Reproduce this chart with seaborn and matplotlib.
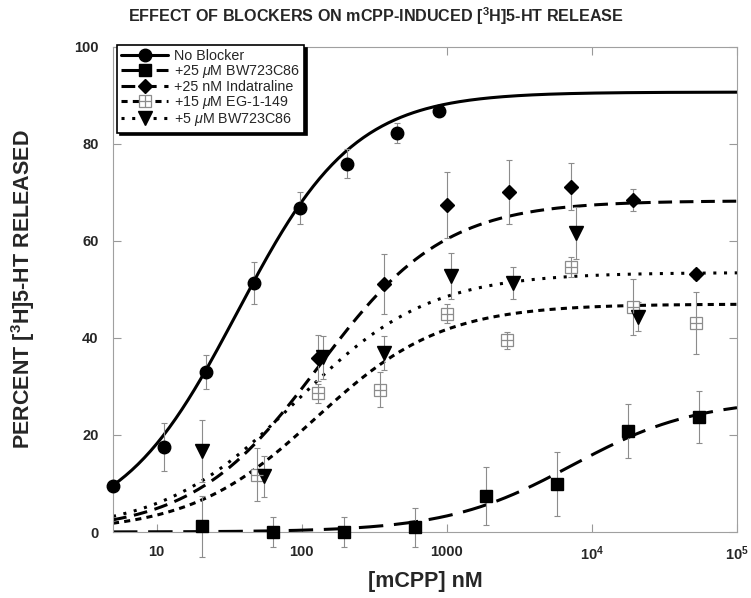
import numpy as np
import pandas as pd
import matplotlib
matplotlib.use('Agg')
import matplotlib.pyplot as plt
import seaborn as sns
from matplotlib.lines import Line2D
from matplotlib.legend_handler import HandlerTuple
from matplotlib.ticker import FixedLocator, FixedFormatter, NullLocator

# Datos: [mCPP] (nM), % liberado, error
nb_x = [5, 11.2, 22, 47, 98, 204, 452, 890]
nb_y = [9.5, 17.5, 33, 51.3, 66.8, 75.9, 82.3, 86.8]
nb_err = [0, 5, 3.5, 4.3, 3.3, 3, 2, 1]

bw25_x = [20.4, 63, 195, 600, 1860, 5700, 17800, 55000]
bw25_y = [1.2, 0, 0, 1, 7.4, 9.9, 20.8, 23.7]
bw25_err = [6.3, 3, 3, 4, 6, 6.5, 5.5, 5.4]

ind_x = [130, 368, 1000, 2700, 7160, 19200, 52000]
ind_y = [35.9, 51.1, 67.4, 70.1, 71.2, 68.5, 53.2]
ind_err = [4.7, 6.2, 6.8, 6.5, 4.8, 2.3, 1]

eg_x = [49, 129, 345, 1000, 2600, 7160, 19200, 52000]
eg_y = [11.8, 28.6, 29.3, 45, 39.5, 54.6, 46.4, 43.1]
eg_err = [5.5, 2, 3.6, 2, 1.7, 2, 5.8, 6.3]

bw5_x = [20.4, 55, 141, 371, 1060, 2850, 7800, 20700]
bw5_y = [16.7, 11.5, 36, 37, 52.8, 51.3, 61.6, 44.4]
bw5_err = [6.4, 4.2, 4.5, 3.5, 4.8, 3.3, 5.4, 3]

# Parametros del ajuste sigmoide: maximo, EC50 (nM), pendiente de Hill
series = ['No Blocker', '+25 $\\mu$M BW723C86', '+25 nM Indatraline',
          '+15 $\\mu$M EG-1-149', '+5 $\\mu$M BW723C86']
fit_top = [90.7, 27.5, 68.3, 47.0, 53.5]
fit_ec50 = [36, 7300, 131, 125, 90]
fit_hill = [1.08, 1.0, 1.0, 1.0, 0.95]

puntos = [(nb_x, nb_y, nb_err), (bw25_x, bw25_y, bw25_err), (ind_x, ind_y, ind_err),
          (eg_x, eg_y, eg_err), (bw5_x, bw5_y, bw5_err)]

dashes = {series[0]: '', series[1]: (8, 3.5), series[2]: (4.5, 2.5),
          series[3]: (2, 1.7), series[4]: (1, 2.5)}
markers = ['o', 's', 'D', 's', 'v']
msizes = [9, 8.5, 7, 8.5, 10]

sns.set_style('ticks')
plt.rcParams['font.family'] = ['Liberation Sans', 'DejaVu Sans']
plt.rcParams['mathtext.fontset'] = 'custom'
plt.rcParams['mathtext.rm'] = 'Liberation Sans'
plt.rcParams['mathtext.it'] = 'Liberation Sans:italic'
plt.rcParams['mathtext.bf'] = 'Liberation Sans:bold'

fig = plt.figure(figsize=(7.51, 5.98), dpi=100)
ax = fig.add_axes([113 / 751, 1 - 532 / 598, 624 / 751, 485 / 598])
ax.set_xscale('log')

# Curvas ajustadas
xs = np.logspace(np.log10(5), 5, 300)
filas = []
for s, t, e, n in zip(series, fit_top, fit_ec50, fit_hill):
    for xv in xs:
        filas.append({'mcpp': xv, 'pct': t / (1 + (e / xv) ** n), 'serie': s})
curvas = pd.DataFrame(filas)
sns.lineplot(data=curvas, x='mcpp', y='pct', hue='serie', style='serie',
             palette=['black'] * 5, dashes=dashes, linewidth=2.2,
             legend=False, ax=ax, estimator=None, sort=False, zorder=2)

# Puntos con barras de error
gris = '#8c8c8c'
for i, (px, py, pe) in enumerate(puntos):
    ax.errorbar(px, py, yerr=pe, fmt='none', ecolor=gris, elinewidth=0.8,
                capsize=2.5, capthick=0.8, zorder=3, clip_on=False)
    if i == 3:
        ax.plot(px, py, ls='none', marker='s', ms=msizes[i], mfc='white',
                mec=gris, mew=0.9, zorder=4, clip_on=False)
        ax.plot(px, py, ls='none', marker='+', ms=msizes[i], mec=gris,
                mew=0.9, zorder=5, clip_on=False)
    else:
        ax.plot(px, py, ls='none', marker=markers[i], ms=msizes[i], color='black',
                zorder=4, clip_on=False)

ax.set_xlim(5, 1e5)
ax.set_ylim(0, 100)
ax.xaxis.set_major_locator(FixedLocator([10, 100, 1000, 1e4, 1e5]))
ax.xaxis.set_major_formatter(FixedFormatter(['10', '100', '1000',
                                             '$\\mathbf{10^4}$', '$\\mathbf{10^5}$']))
ax.xaxis.set_minor_locator(NullLocator())
ax.set_yticks([0, 20, 40, 60, 80, 100])
ax.tick_params(axis='both', direction='in', length=6, width=0.8, color='#999999',
               top=True, right=True, labelsize=10.5)
ax.tick_params(axis='y', pad=10.5)
ax.tick_params(axis='x', pad=9)
for lab in ax.get_xticklabels() + ax.get_yticklabels():
    lab.set_fontweight('bold')
for sp in ax.spines.values():
    sp.set_color('#a0a0a0')
    sp.set_linewidth(0.8)

ax.set_xlabel('[mCPP] nM', fontsize=15.5, fontweight='bold', labelpad=6)
ax.set_ylabel('PERCENT [$\\mathbf{^3}$H]5-HT RELEASED', fontsize=15.5, fontweight='bold')
ax.yaxis.set_label_coords(-0.122, 0.5)
fig.text(0.5, 1 - 16 / 598, 'EFFECT OF BLOCKERS ON mCPP-INDUCED [$\\mathbf{^3}$H]5-HT RELEASE',
         ha='center', va='center', fontsize=11.6, fontweight='bold')

# Leyenda
handles = []
for i, s in enumerate(series):
    if dashes[s] == '':
        linea = Line2D([], [], color='black', lw=2.2, ls='-')
    else:
        linea = Line2D([], [], color='black', lw=2.2, ls=(0, dashes[s]))
    if i == 3:
        m1 = Line2D([], [], ls='none', marker='s', ms=msizes[i], mfc='white', mec=gris, mew=0.9)
        m2 = Line2D([], [], ls='none', marker='+', ms=msizes[i], mec=gris, mew=0.9)
        handles.append((linea, m1, m2))
    else:
        m1 = Line2D([], [], ls='none', marker=markers[i], ms=msizes[i], color='black')
        handles.append((linea, m1))
leg = ax.legend(handles, series, handler_map={tuple: HandlerTuple(ndivide=1)},
                loc='upper left', bbox_to_anchor=(0.006, 1.004), borderaxespad=0,
                fontsize=10.3, labelspacing=0.0, handlelength=3.3, handletextpad=0.4,
                borderpad=0.3, fancybox=False, frameon=True,
                shadow={'color': 'black', 'alpha': 1})
leg.get_frame().set_edgecolor('black')
leg.get_frame().set_linewidth(1.2)
leg.set_zorder(10)

fig.savefig('out.png', dpi=100)
